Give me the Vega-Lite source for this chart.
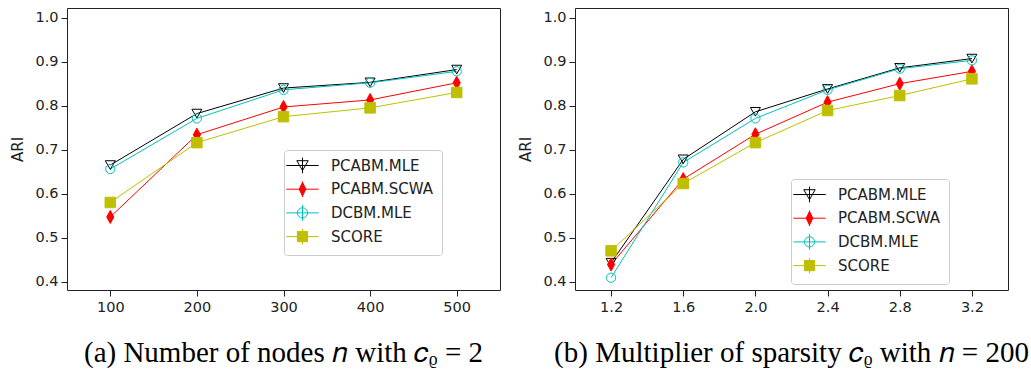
{
  "$schema": "https://vega.github.io/schema/vega-lite/v6.json",
  "background": "white",
  "padding": {"left": 10, "top": 7, "right": 0, "bottom": 0},
  "spacing": 17,
  "datasets": {
    "a": [
      {"x": 100, "series": "PCABM.MLE", "ari": 0.665},
      {"x": 200, "series": "PCABM.MLE", "ari": 0.782},
      {"x": 300, "series": "PCABM.MLE", "ari": 0.840},
      {"x": 400, "series": "PCABM.MLE", "ari": 0.853},
      {"x": 500, "series": "PCABM.MLE", "ari": 0.882},
      {"x": 100, "series": "PCABM.SCWA", "ari": 0.547},
      {"x": 200, "series": "PCABM.SCWA", "ari": 0.734},
      {"x": 300, "series": "PCABM.SCWA", "ari": 0.797},
      {"x": 400, "series": "PCABM.SCWA", "ari": 0.813},
      {"x": 500, "series": "PCABM.SCWA", "ari": 0.852},
      {"x": 100, "series": "DCBM.MLE", "ari": 0.656},
      {"x": 200, "series": "DCBM.MLE", "ari": 0.771},
      {"x": 300, "series": "DCBM.MLE", "ari": 0.836},
      {"x": 400, "series": "DCBM.MLE", "ari": 0.852},
      {"x": 500, "series": "DCBM.MLE", "ari": 0.878},
      {"x": 100, "series": "SCORE", "ari": 0.580},
      {"x": 200, "series": "SCORE", "ari": 0.716},
      {"x": 300, "series": "SCORE", "ari": 0.775},
      {"x": 400, "series": "SCORE", "ari": 0.795},
      {"x": 500, "series": "SCORE", "ari": 0.830}
    ],
    "b": [
      {"x": 1.2, "series": "PCABM.MLE", "ari": 0.443},
      {"x": 1.6, "series": "PCABM.MLE", "ari": 0.678},
      {"x": 2.0, "series": "PCABM.MLE", "ari": 0.786},
      {"x": 2.4, "series": "PCABM.MLE", "ari": 0.838},
      {"x": 2.8, "series": "PCABM.MLE", "ari": 0.886},
      {"x": 3.2, "series": "PCABM.MLE", "ari": 0.907},
      {"x": 1.2, "series": "PCABM.SCWA", "ari": 0.439},
      {"x": 1.6, "series": "PCABM.SCWA", "ari": 0.633},
      {"x": 2.0, "series": "PCABM.SCWA", "ari": 0.735},
      {"x": 2.4, "series": "PCABM.SCWA", "ari": 0.808},
      {"x": 2.8, "series": "PCABM.SCWA", "ari": 0.850},
      {"x": 3.2, "series": "PCABM.SCWA", "ari": 0.878},
      {"x": 1.2, "series": "DCBM.MLE", "ari": 0.409},
      {"x": 1.6, "series": "DCBM.MLE", "ari": 0.671},
      {"x": 2.0, "series": "DCBM.MLE", "ari": 0.771},
      {"x": 2.4, "series": "DCBM.MLE", "ari": 0.836},
      {"x": 2.8, "series": "DCBM.MLE", "ari": 0.884},
      {"x": 3.2, "series": "DCBM.MLE", "ari": 0.903},
      {"x": 1.2, "series": "SCORE", "ari": 0.470},
      {"x": 1.6, "series": "SCORE", "ari": 0.623},
      {"x": 2.0, "series": "SCORE", "ari": 0.716},
      {"x": 2.4, "series": "SCORE", "ari": 0.789},
      {"x": 2.8, "series": "SCORE", "ari": 0.823},
      {"x": 3.2, "series": "SCORE", "ari": 0.861}
    ]
  },
  "hconcat": [
    {
      "width": 433,
      "height": 282,
      "data": {"name": "a"},
      "title": {"text": "(a) Number of nodes 𝑛 with 𝑐ᵨ = 2", "orient": "bottom", "anchor": "middle", "font": "Liberation Serif", "fontSize": 29, "fontWeight": "normal", "color": "#000000", "offset": 25},
      "encoding": {
        "x": {"field": "x", "type": "quantitative", "scale": {"domain": [50, 550], "nice": false, "zero": false}, "axis": {"values": [100, 200, 300, 400, 500], "title": null}},
        "y": {"field": "ari", "type": "quantitative", "scale": {"domain": [0.381, 1.022], "nice": false, "zero": false}, "axis": {"values": [0.4, 0.5, 0.6, 0.7, 0.8, 0.9, 1.0], "format": ".1f", "title": "ARI"}},
        "stroke": {"field": "series", "type": "nominal", "scale": {"domain": ["PCABM.MLE", "PCABM.SCWA", "DCBM.MLE", "SCORE"], "range": ["#000000", "#ff0000", "#00bfbf", "#bfbf00"]},
          "legend": {"title": null, "orient": "none", "legendX": 217, "legendY": 142,
            "encoding": {"symbols": {
              "shape": {"value": {"expr": "datum.value==='PCABM.MLE'?'M-2.7,0H2.7M0,-1.3V1.3M-0.95,-0.8H0.95L0,0.85Z':datum.value==='PCABM.SCWA'?'M-2.7,0H2.7M0,-1.3V1.3M0,-1.15L0.55,0L0,1.15L-0.55,0Z':datum.value==='DCBM.MLE'?'M-2.7,0H2.7M0,-1.3V1.3M0.85,0A0.85,0.85,0,1,1,-0.85,0A0.85,0.85,0,1,1,0.85,0Z':'M-2.7,0H2.7M0,-1.3V1.3M-0.85,-0.85H0.85V0.85H-0.85Z'"}},
              "fill": {"value": {"expr": "datum.value==='PCABM.SCWA'?'#ff0000':datum.value==='SCORE'?'#bfbf00':'transparent'"}},
              "strokeWidth": {"value": 1},
              "size": {"value": 144},
              "opacity": {"value": 1}
            }}
          }
        }
      },
      "layer": [
        {"mark": {"type": "line", "strokeWidth": 1}},
        {"transform": [{"filter": "datum.series === 'PCABM.MLE'"}], "mark": {"type": "point", "shape": "triangle-down", "size": 100, "filled": false, "strokeWidth": 1, "opacity": 1}},
        {"transform": [{"filter": "datum.series === 'PCABM.SCWA'"}], "mark": {"type": "point", "shape": "M0,-1L0.55,0L0,1L-0.55,0Z", "size": 170, "filled": true, "fill": "#ff0000", "strokeWidth": 1, "opacity": 1}},
        {"transform": [{"filter": "datum.series === 'DCBM.MLE'"}], "mark": {"type": "point", "shape": "circle", "size": 85, "filled": false, "strokeWidth": 1, "opacity": 1}},
        {"transform": [{"filter": "datum.series === 'SCORE'"}], "mark": {"type": "point", "shape": "square", "size": 110, "filled": true, "fill": "#bfbf00", "strokeWidth": 1, "opacity": 1}}
      ]
    },
    {
      "width": 433,
      "height": 282,
      "data": {"name": "b"},
      "title": {"text": "(b) Multiplier of sparsity 𝑐ᵨ with 𝑛 = 200", "orient": "bottom", "anchor": "middle", "font": "Liberation Serif", "fontSize": 29, "fontWeight": "normal", "color": "#000000", "offset": 25},
      "encoding": {
        "x": {"field": "x", "type": "quantitative", "scale": {"domain": [1.0, 3.4], "nice": false, "zero": false}, "axis": {"values": [1.2, 1.6, 2.0, 2.4, 2.8, 3.2], "format": ".1f", "title": null}},
        "y": {"field": "ari", "type": "quantitative", "scale": {"domain": [0.381, 1.022], "nice": false, "zero": false}, "axis": {"values": [0.4, 0.5, 0.6, 0.7, 0.8, 0.9, 1.0], "format": ".1f", "title": "ARI"}},
        "stroke": {"field": "series", "type": "nominal", "scale": {"domain": ["PCABM.MLE", "PCABM.SCWA", "DCBM.MLE", "SCORE"], "range": ["#000000", "#ff0000", "#00bfbf", "#bfbf00"]},
          "legend": {"title": null, "orient": "none", "legendX": 216, "legendY": 171,
            "encoding": {"symbols": {
              "shape": {"value": {"expr": "datum.value==='PCABM.MLE'?'M-2.7,0H2.7M0,-1.3V1.3M-0.95,-0.8H0.95L0,0.85Z':datum.value==='PCABM.SCWA'?'M-2.7,0H2.7M0,-1.3V1.3M0,-1.15L0.55,0L0,1.15L-0.55,0Z':datum.value==='DCBM.MLE'?'M-2.7,0H2.7M0,-1.3V1.3M0.85,0A0.85,0.85,0,1,1,-0.85,0A0.85,0.85,0,1,1,0.85,0Z':'M-2.7,0H2.7M0,-1.3V1.3M-0.85,-0.85H0.85V0.85H-0.85Z'"}},
              "fill": {"value": {"expr": "datum.value==='PCABM.SCWA'?'#ff0000':datum.value==='SCORE'?'#bfbf00':'transparent'"}},
              "strokeWidth": {"value": 1},
              "size": {"value": 144},
              "opacity": {"value": 1}
            }}
          }
        }
      },
      "layer": [
        {"mark": {"type": "line", "strokeWidth": 1}},
        {"transform": [{"filter": "datum.series === 'PCABM.MLE'"}], "mark": {"type": "point", "shape": "triangle-down", "size": 100, "filled": false, "strokeWidth": 1, "opacity": 1}},
        {"transform": [{"filter": "datum.series === 'PCABM.SCWA'"}], "mark": {"type": "point", "shape": "M0,-1L0.55,0L0,1L-0.55,0Z", "size": 170, "filled": true, "fill": "#ff0000", "strokeWidth": 1, "opacity": 1}},
        {"transform": [{"filter": "datum.series === 'DCBM.MLE'"}], "mark": {"type": "point", "shape": "circle", "size": 85, "filled": false, "strokeWidth": 1, "opacity": 1}},
        {"transform": [{"filter": "datum.series === 'SCORE'"}], "mark": {"type": "point", "shape": "square", "size": 110, "filled": true, "fill": "#bfbf00", "strokeWidth": 1, "opacity": 1}}
      ]
    }
  ],
  "resolve": {
    "scale": {"x": "independent", "y": "independent", "stroke": "independent"},
    "legend": {"stroke": "independent"}
  },
  "config": {
    "view": {"stroke": "#222222", "strokeWidth": 1},
    "axis": {
      "domain": false,
      "grid": false,
      "tickColor": "#222222",
      "tickSize": 6,
      "tickWidth": 1,
      "labelFont": "DejaVu Sans",
      "labelFontSize": 14.5,
      "labelColor": "#222222",
      "labelPadding": 3,
      "titleFont": "DejaVu Sans",
      "titleFontSize": 15,
      "titleFontWeight": "normal",
      "titleColor": "#222222",
      "titlePadding": 9
    },
    "axisX": {"labelPadding": 4},
    "legend": {
      "labelFont": "DejaVu Sans",
      "labelFontSize": 15,
      "labelColor": "#222222",
      "symbolSize": 144,
      "symbolStrokeWidth": 1,
      "symbolOffset": 3,
      "labelOffset": 21,
      "padding": 8,
      "rowPadding": 2.7,
      "strokeColor": "#cccccc",
      "fillColor": "rgba(255,255,255,0.8)",
      "cornerRadius": 3
    }
  }
}
